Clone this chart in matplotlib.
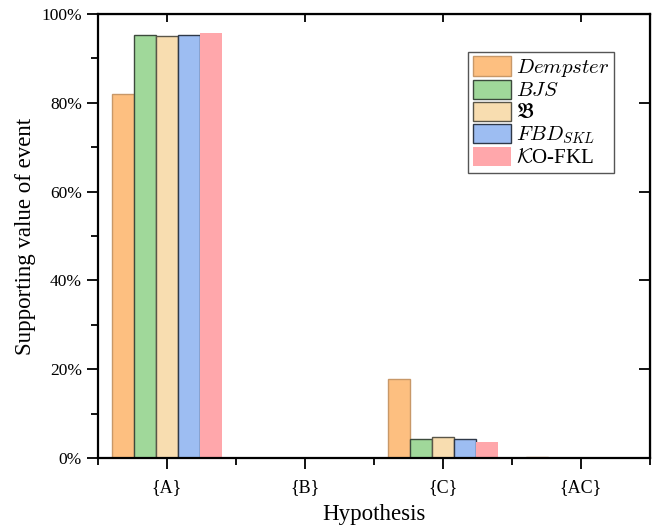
import numpy as np
import matplotlib
matplotlib.use("Agg")
import matplotlib.pyplot as plt
from matplotlib.ticker import PercentFormatter, MultipleLocator, FixedLocator, NullFormatter

# ---------- DATA ----------
hypotheses = ["{A}", "{B}", "{C}", "{AC}"]
methods = [r"$Dempster$", r"$BJS$", r"$\mathfrak{B}$", r"$FBD_{SKL}$", r"$\mathcal{K}$O-FKL"]

dempster = [0.819, 0.0, 0.177, 0.003]
bjs = [0.953, 0.0, 0.043, 0.001]
frak_b = [0.951, 0.0, 0.047, 0.001]
fbd_skl = [0.953, 0.0, 0.043, 0.001]
ko_fkl = [0.958, 0.0, 0.036, 0.001]

# ---------- STYLE ----------
fill_colors = ["#FDBF80", "#A0D89A", "#F8DDB0", "#9DBDF2", "#FFA7AB"]
edge_colors = ["#C89868", "#3C4A3C", "#5A5648", "#2E3848", "none"]

plt.rcParams["font.family"] = ["Liberation Serif", "DejaVu Serif"]
plt.rcParams["mathtext.fontset"] = "cm"

fig = plt.figure(figsize=(6.62, 5.30), dpi=100)
ax = fig.add_axes([98 / 662, 72 / 530, 552 / 662, 444 / 530])

x = np.arange(len(hypotheses))
width = 0.16
series = [dempster, bjs, frak_b, fbd_skl, ko_fkl]

for i, vals in enumerate(series):
    offs = (i - 2) * width
    ax.bar(x + offs, vals, width, color=fill_colors[i],
           edgecolor=edge_colors[i], linewidth=1.0, label=methods[i])

ax.set_xlim(-0.5, 3.5)
ax.set_ylim(0, 1.0)

ax.set_xticks(x)
ax.set_xticklabels(hypotheses, fontsize=13)
ax.xaxis.set_minor_locator(FixedLocator(np.arange(-0.5, 3.6, 1.0)))
ax.yaxis.set_major_locator(MultipleLocator(0.2))
ax.yaxis.set_minor_locator(MultipleLocator(0.1))
ax.yaxis.set_major_formatter(PercentFormatter(1.0, decimals=0))
ax.tick_params(axis="y", labelsize=12.5)

ax.tick_params(which="major", direction="out", length=8, width=1.3)
ax.tick_params(which="minor", direction="out", length=5, width=1.3)
ax.tick_params(axis="x", pad=7)

for sp in ax.spines.values():
    sp.set_linewidth(1.6)

# mirrored inward ticks on top and right
top = ax.secondary_xaxis("top")
top.set_xticks(x)
top.xaxis.set_major_formatter(NullFormatter())
top.tick_params(direction="in", length=6, width=1.3)

right = ax.secondary_yaxis("right")
right.set_yticks(np.arange(0, 1.01, 0.2))
right.yaxis.set_major_formatter(NullFormatter())
right.tick_params(direction="in", length=8, width=1.3)

ax.set_xlabel("Hypothesis", fontsize=16.5, labelpad=6)
ax.set_ylabel("Supporting value of event", fontsize=16.5, labelpad=4)

leg = ax.legend(loc="upper right", bbox_to_anchor=(0.935, 0.914), borderaxespad=0,
                fontsize=15, fancybox=False, framealpha=1, edgecolor="#555555",
                handlelength=1.85, handleheight=1.05, labelspacing=0.02,
                handletextpad=0.25, borderpad=0.2)
leg.get_frame().set_linewidth(1.0)

fig.savefig("out.png", dpi=100)
